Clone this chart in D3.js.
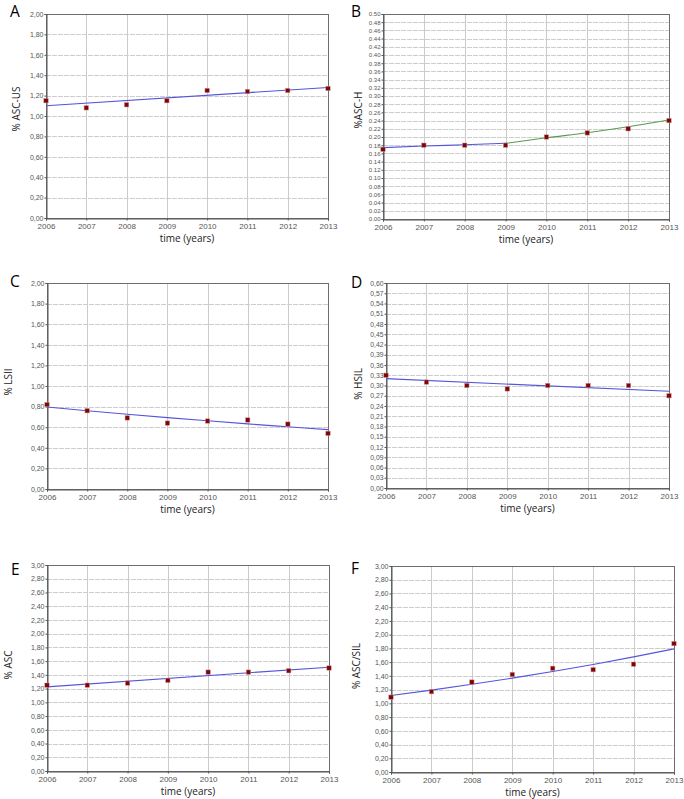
<!DOCTYPE html>
<html>
<head>
<meta charset="utf-8">
<script src="https://cdn.jsdelivr.net/npm/d3@7"></script>
<style>
  html, body { margin: 0; padding: 0; background: #fff; }
  svg { display: block; }
  .title { font-family: "Open Sans", "Noto Sans", sans-serif; font-size: 10px; fill: #222; }
  .letter { font-family: "Open Sans", "Noto Sans", sans-serif; font-size: 15.5px; fill: #000; }
</style>
</head>
<body>
<svg id="chart" width="684" height="799"></svg>
<script>
// ---------- data ----------
const years = [2006, 2007, 2008, 2009, 2010, 2011, 2012, 2013];

const letters = ["A", "B", "C", "D", "E", "F"];
const yLabels = ["% ASC-US", "%ASC-H", "% LSII", "% HSIL", "% ASC", "% ASC/SIL"];
const yMaxes = [2.0, 0.5, 2.0, 0.6, 3.0, 3.0];
const ySteps = [0.2, 0.02, 0.2, 0.03, 0.2, 0.2];
const decimalSeps = [",", ".", ",", ",", ",", ","];

const ascUs  = [1.15, 1.08, 1.11, 1.15, 1.25, 1.24, 1.25, 1.27];
const ascH   = [0.17, 0.18, 0.18, 0.18, 0.20, 0.21, 0.22, 0.24];
const lsil   = [0.82, 0.76, 0.69, 0.64, 0.66, 0.67, 0.63, 0.54];
const hsil   = [0.33, 0.31, 0.30, 0.29, 0.30, 0.30, 0.30, 0.27];
const asc    = [1.25, 1.25, 1.28, 1.32, 1.44, 1.44, 1.46, 1.50];
const ascSil = [1.09, 1.17, 1.31, 1.42, 1.51, 1.49, 1.57, 1.87];

// fitted trend curves (year, value)
const trendAscUs  = [[2006, 1.10], [2013, 1.28]];
const trendAscH1  = [[2006, 0.174], [2007, 0.178], [2008, 0.181], [2009, 0.1846]];
const trendAscH2  = [[2009, 0.1846], [2010, 0.198], [2011, 0.2105], [2012, 0.225], [2013, 0.2415]];
const trendLsil   = [[2006, 0.796], [2007, 0.760], [2008, 0.726], [2009, 0.693], [2010, 0.662], [2011, 0.632], [2012, 0.604], [2013, 0.576]];
const trendHsil   = [[2006, 0.320], [2013, 0.283]];
const trendAsc    = [[2006, 1.225], [2013, 1.512]];
const trendAscSil = [[2006, 1.115], [2007, 1.193], [2008, 1.277], [2009, 1.367], [2010, 1.463], [2011, 1.566], [2012, 1.676], [2013, 1.793]];

const seriesList = [ascUs, ascH, lsil, hsil, asc, ascSil];
const trendsList = [
  [{pts: trendAscUs, color: "blue"}],
  [{pts: trendAscH1, color: "blue"}, {pts: trendAscH2, color: "green"}],
  [{pts: trendLsil, color: "blue"}],
  [{pts: trendHsil, color: "blue"}],
  [{pts: trendAsc, color: "blue"}],
  [{pts: trendAscSil, color: "blue"}]
];

// ---------- layout ----------
const frames = [
  {x0: 46,  x1: 328, y0: 14,  y1: 218, tickFont: 7,   ylx: 20,  yly: 109, lx: 10,  ly: 17},
  {x0: 383, x1: 669, y0: 14,  y1: 219, tickFont: 6,   ylx: 362, yly: 110, lx: 351, ly: 17},
  {x0: 47,  x1: 328, y0: 283, y1: 489, tickFont: 7,   ylx: 11.5, yly: 382, lx: 10,  ly: 287},
  {x0: 386, x1: 669, y0: 283, y1: 488, tickFont: 6.8, ylx: 362, yly: 384, lx: 351, ly: 288},
  {x0: 47,  x1: 329, y0: 565, y1: 771, tickFont: 7,   ylx: 11.5, yly: 665, lx: 11,  ly: 575},
  {x0: 391, x1: 674, y0: 566, y1: 772, tickFont: 7,   ylx: 360, yly: 666, lx: 351, ly: 574}
];
const colors = {blue: "#5454dc", green: "#5a9a52"};

const svg = d3.select("#chart");

frames.forEach((f, i) => {
  const g = svg.append("g");
  const x = d3.scaleLinear().domain([years[0], years[years.length - 1]]).range([f.x0, f.x1]);
  const y = d3.scaleLinear().domain([0, yMaxes[i]]).range([f.y1, f.y0]);
  const nTicks = Math.round(yMaxes[i] / ySteps[i]);
  const yTicks = d3.range(nTicks + 1).map(k => +(k * ySteps[i]).toFixed(3));
  const fmt = v => d3.format(".2f")(v).replace(".", decimalSeps[i]);

  g.append("rect").attr("x", f.x0).attr("y", f.y0)
    .attr("width", f.x1 - f.x0).attr("height", f.y1 - f.y0).attr("fill", "#fff");

  // horizontal grid
  g.append("g").selectAll("line").data(yTicks).join("line")
    .attr("x1", f.x0).attr("x2", f.x1)
    .attr("y1", d => Math.round(y(d)) + 0.5).attr("y2", d => Math.round(y(d)) + 0.5)
    .attr("stroke", "#cdcdcd").attr("stroke-width", 1).attr("stroke-dasharray", "5,1");

  // vertical grid
  g.append("g").selectAll("line").data(years).join("line")
    .attr("x1", d => Math.round(x(d)) + 0.5).attr("x2", d => Math.round(x(d)) + 0.5)
    .attr("y1", f.y0).attr("y2", f.y1)
    .attr("stroke", "#cbcbcb").attr("stroke-width", 1);

  // frame
  g.append("rect").attr("x", f.x0 + 0.5).attr("y", f.y0 + 0.5)
    .attr("width", f.x1 - f.x0).attr("height", f.y1 - f.y0)
    .attr("fill", "none").attr("stroke", "#6e6e6e").attr("stroke-width", 1);

  // y axis
  const yAxis = d3.axisLeft(y).tickValues(yTicks).tickFormat(fmt).tickSize(2).tickPadding(1);
  const ya = g.append("g").attr("transform", `translate(${f.x0 + 0.5},0)`).call(yAxis);
  ya.select(".domain").attr("stroke", "#555");
  ya.selectAll(".tick line").attr("stroke", "#555");
  ya.selectAll(".tick text").attr("font-size", f.tickFont + "px")
    .attr("font-family", "Liberation Sans, Arial, sans-serif").attr("fill", "#555");

  // x axis
  const xAxis = d3.axisBottom(x).tickValues(years).tickFormat(d3.format("d")).tickSize(2).tickPadding(3);
  const xa = g.append("g").attr("transform", `translate(0,${f.y1 + 0.5})`).call(xAxis);
  xa.select(".domain").attr("stroke", "#555");
  xa.selectAll(".tick line").attr("stroke", "#555");
  xa.selectAll(".tick text").attr("font-size", "8px")
    .attr("font-family", "Liberation Sans, Arial, sans-serif").attr("fill", "#555");

  // trend lines
  const line = d3.line().x(d => x(d[0])).y(d => y(d[1])).curve(d3.curveMonotoneX);
  trendsList[i].forEach(t => {
    g.append("path").datum(t.pts).attr("d", line)
      .attr("fill", "none").attr("stroke", colors[t.color]).attr("stroke-width", 1.1);
  });

  // points
  g.append("g").selectAll("rect").data(seriesList[i].map((v, k) => [years[k], v])).join("rect")
    .attr("x", d => x(d[0]) - 2.2).attr("y", d => y(d[1]) - 2.2)
    .attr("width", 4.4).attr("height", 4.4)
    .attr("fill", "#7a0808").attr("stroke", "#d89090").attr("stroke-width", 0.5);

  // axis titles
  g.append("text").attr("class", "title")
    .attr("x", (f.x0 + f.x1) / 2).attr("y", f.y1 + 24)
    .attr("text-anchor", "middle").text("time (years)");
  g.append("text").attr("class", "title")
    .attr("transform", `translate(${f.ylx},${f.yly}) rotate(-90)`)
    .attr("text-anchor", "middle").text(yLabels[i]);

  // panel letter
  g.append("text").attr("class", "letter").attr("x", f.lx).attr("y", f.ly).text(letters[i]);
});
</script>
</body>
</html>
